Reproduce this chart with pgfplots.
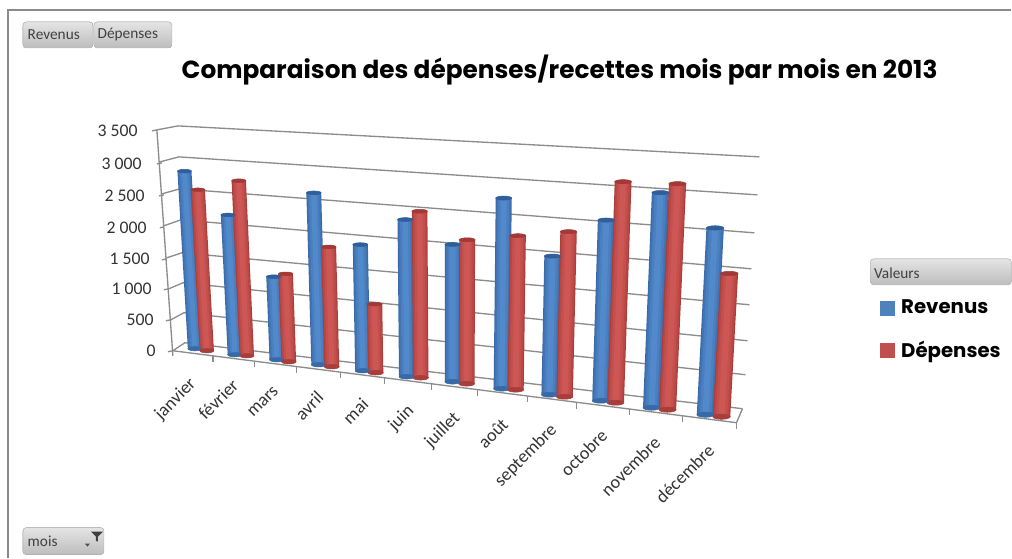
\documentclass[border=0pt]{standalone}
\usepackage{pgfplots}
\usepackage{pgfplotstable}
\usepackage{fontspec}
\pgfplotsset{compat=1.18}
\setmainfont{Carlito}
\newfontfamily\comic{Poppins}
\definecolor{gridc}{HTML}{8C8C8C}
\definecolor{frame}{HTML}{8A8A8A}
\definecolor{btnA}{HTML}{E4E4E4}
\definecolor{btnB}{HTML}{BDBDBD}
\definecolor{btnT}{HTML}{404040}
\definecolor{bA}{HTML}{386AA8}\definecolor{bB}{HTML}{4174B4}\definecolor{bC}{HTML}{4A7FC0}\definecolor{bD}{HTML}{5289CB}\definecolor{bT}{HTML}{2F5E9A}
\definecolor{rA}{HTML}{A83D3A}\definecolor{rB}{HTML}{B84745}\definecolor{rC}{HTML}{C44F4C}\definecolor{rD}{HTML}{CC5754}\definecolor{rT}{HTML}{A23936}
\definecolor{legB}{HTML}{4F81BD}\definecolor{legR}{HTML}{C0504D}
% xb,yb: foot of the bar in the picture; val: the value read
\pgfplotstableread{
xb yb val
195 349 2800
235 355 2180
277 360 1280
319 365 2620
363 371 1900
407 377 2340
453 382 2020
502 389 2770
550 395 1990
601 401 2560
652 408 3010
706 415 2580
}\revtab
\pgfplotstableread{
xb yb val
207 351 2530
247 356 2720
289 362 1350
332 367 1820
376 373 1030
421 378 2470
467 384 2110
516 390 2230
565 397 2360
616 403 3120
668 410 3150
722 417 1970
}\deptab
\newcommand\onebar[3]{% table, row, colour prefix
  \pgfplotstablegetelem{#2}{xb}\of#1\edef\xb{\pgfplotsretval}%
  \pgfplotstablegetelem{#2}{yb}\of#1\edef\yb{\pgfplotsretval}%
  \pgfplotstablegetelem{#2}{val}\of#1\edef\vv{\pgfplotsretval}%
  \pgfmathsetmacro\xt{\xb+\vv/1000*0.0146*(\xb-450)}%
  \pgfmathsetmacro\yt{\yb-\vv/1000*(63.1+0.01755*(\xb-173))}%
  \pgfmathsetmacro\lwA{0.75*(14+3.5*(\xb-195)/527)}%
  \pgfmathsetmacro\lwB{\lwA*0.88}\pgfmathsetmacro\lwC{\lwA*0.66}\pgfmathsetmacro\lwD{\lwA*0.36}\pgfmathsetmacro\ms{\lwA/2}%
  \edef\temp{\noexpand\addplot[only marks,mark=*,mark size=\ms pt,mark options={yscale=0.3,draw=#3A,fill=#3A}] coordinates {(\xb,\yb)};
  \noexpand\addplot[#3A,line width=\lwA pt] coordinates {(\xb,\yb)(\xt,\yt)};
  \noexpand\addplot[#3B,line width=\lwB pt] coordinates {(\xb,\yb)(\xt,\yt)};
  \noexpand\addplot[#3C,line width=\lwC pt] coordinates {(\xb,\yb)(\xt,\yt)};
  \noexpand\addplot[#3D,line width=\lwD pt] coordinates {(\xb,\yb)(\xt,\yt)};
  \noexpand\addplot[only marks,mark=*,mark size=\ms pt,mark options={yscale=0.25,draw=#3T,fill=#3T}] coordinates {(\xt,\yt)};}%
  \temp
}
\tikzset{btn/.style={draw=btnB,rounded corners=2.5pt,top color=btnA,bottom color=btnB}}
\newcommand\btntext[3]{\node[anchor=west,text=btnT,font=\fontsize{11.5}{12}\selectfont] at (axis cs:#1,#2) {#3};}
\newcommand\vallab[3]{\node[anchor=east,inner sep=0pt,text=black!80,font=\fontsize{13.3}{14}\selectfont] at (axis cs:#1,#2) {#3};}
\newcommand\monlab[3]{\node[anchor=north east,rotate=45,inner sep=0pt,text=black!80,font=\fontsize{13.6}{14}\selectfont] at (axis cs:#1,#2) {#3};}
\begin{document}
\begin{tikzpicture}
\begin{axis}[
  scale only axis,width=759pt,height=418.5pt,
  xmin=0,xmax=1012,ymin=0,ymax=558,y dir=reverse,
  hide axis,clip=false,
  legend style={draw=none,fill=none,at={(0.866,0.472)},anchor=north west,
    font=\comic\bfseries\fontsize{14.8}{18}\selectfont,row sep=15pt},
  legend cell align=left,
]
% legend
\addlegendimage{only marks,mark=square*,mark size=5.2pt,mark options={draw=legB,fill=legB}}
\addlegendentry{\hspace{3.5pt}Revenus}
\addlegendimage{only marks,mark=square*,mark size=5.2pt,mark options={draw=legR,fill=legR}}
\addlegendentry{\hspace{3.5pt}Dépenses}
% page extent
\path (axis cs:0,0) (axis cs:1012,558);
% frame
\addplot[frame,line width=1.1pt] coordinates {(8,558)(8,10)(1012,10)};
% back wall grid
\addplot[gridc,line width=1pt] coordinates {(173,351)(185,343)(743,409)};
\addplot[gridc,line width=1pt] coordinates {(171,320)(184,313)(746,375)};
\addplot[gridc,line width=1pt] coordinates {(169,289)(183,283)(748,341)};
\addplot[gridc,line width=1pt] coordinates {(167,258)(182,253)(750,305)};
\addplot[gridc,line width=1pt] coordinates {(164,226)(181,220)(752,269)};
\addplot[gridc,line width=1pt] coordinates {(162,194)(180,189)(755,233)};
\addplot[gridc,line width=1pt] coordinates {(160,162)(179,157)(758,195)};
\addplot[gridc,line width=1pt] coordinates {(157,130)(178,126)(760,157)};
% vertical axis, its ticks, floor
\addplot[gridc,line width=1pt] coordinates {(173,356)(157,130)(152,131)};
\addplot[gridc,line width=1pt] coordinates {(162,163)(157,164)};
\addplot[gridc,line width=1pt] coordinates {(164,195)(159,196)};
\addplot[gridc,line width=1pt] coordinates {(164,227)(160,228)};
\addplot[gridc,line width=1pt] coordinates {(167,259)(162,260)};
\addplot[gridc,line width=1pt] coordinates {(169,289)(164,290)};
\addplot[gridc,line width=1pt] coordinates {(171,320)(166,321)};
\addplot[gridc,line width=1pt] coordinates {(173,351)(168,352)};
\addplot[gridc,line width=1pt] coordinates {(173,351)(737,423)(743,409)};
\addplot[gridc,line width=1pt] coordinates {(213,356)(213,362)};
\addplot[gridc,line width=1pt] coordinates {(255,361)(255,367)};
\addplot[gridc,line width=1pt] coordinates {(297,367)(297,373)};
\addplot[gridc,line width=1pt] coordinates {(341,372)(341,378)};
\addplot[gridc,line width=1pt] coordinates {(385,378)(385,384)};
\addplot[gridc,line width=1pt] coordinates {(432,384)(432,390)};
\addplot[gridc,line width=1pt] coordinates {(478,390)(478,396)};
\addplot[gridc,line width=1pt] coordinates {(528,396)(528,402)};
\addplot[gridc,line width=1pt] coordinates {(577,403)(577,409)};
\addplot[gridc,line width=1pt] coordinates {(630,409)(630,415)};
\addplot[gridc,line width=1pt] coordinates {(683,416)(683,422)};
\addplot[gridc,line width=1pt] coordinates {(737,423)(737,429)};
% bars
\pgfplotsforeachungrouped \i in {0,...,11}{\onebar{\revtab}{\i}{b}\onebar{\deptab}{\i}{r}}
% title
\node[font=\comic\bfseries\fontsize{18.6}{20}\selectfont,anchor=center] at (axis cs:560,70) {Comparaison des dépenses/recettes mois par mois en 2013};
% value labels
\vallab{138}{131}{3 500}
\vallab{142}{164}{3 000}
\vallab{145}{196}{2 500}
\vallab{147}{228}{2 000}
\vallab{150}{259}{1 500}
\vallab{152}{289}{1 000}
\vallab{154}{320}{500}
\vallab{156}{351}{0}
% month labels
\monlab{188}{376}{janvier}
\monlab{231}{378}{février}
\monlab{273}{386}{mars}
\monlab{316}{390}{avril}
\monlab{361}{397}{mai}
\monlab{406}{403}{juin}
\monlab{452}{410}{juillet}
\monlab{501}{417}{août}
\monlab{549}{422}{septembre}
\monlab{600}{428}{octobre}
\monlab{653}{435}{novembre}
\monlab{707}{443}{décembre}
% field buttons
\fill[btn] (axis cs:23,22) rectangle (axis cs:93,48);
\fill[btn] (axis cs:94,22) rectangle (axis cs:172,48);
\fill[btn] (axis cs:871,259) rectangle (axis cs:1012,285);
\fill[btn] (axis cs:23,528) rectangle (axis cs:104,555);
\btntext{23}{35}{Revenus}
\btntext{93}{35}{Dépenses}
\btntext{870}{273}{Valeurs}
\btntext{23}{542}{mois}
\fill[black!70] (axis cs:85,544) -- (axis cs:90,544) -- (axis cs:87.5,547) -- cycle;
\fill[black!75] (axis cs:91,532) -- (axis cs:103,532) -- (axis cs:98,537) -- (axis cs:98,542) -- (axis cs:96,541) -- (axis cs:96,537) -- cycle;
\end{axis}
\end{tikzpicture}
\end{document}
